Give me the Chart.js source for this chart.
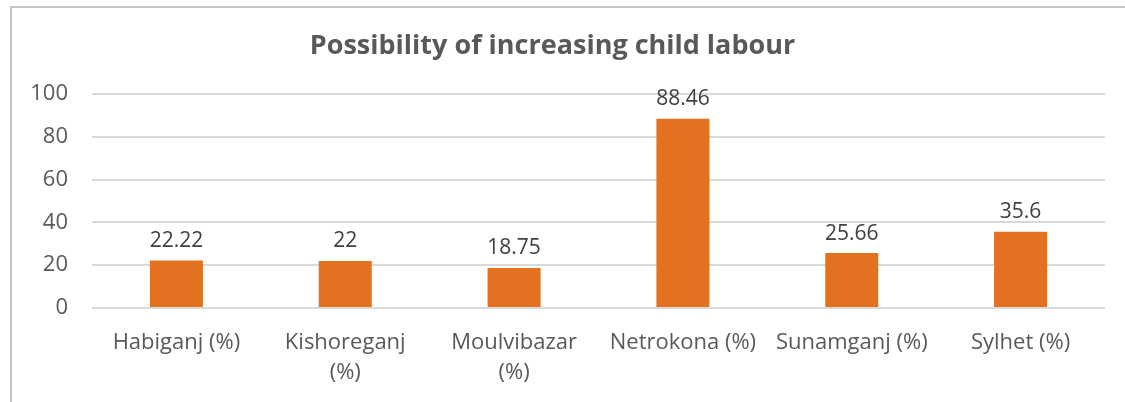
<!DOCTYPE html>
<html>
<head>
<meta charset="utf-8">
<script src="https://cdn.jsdelivr.net/npm/chart.js@4"></script>
<style>
  body { margin: 0; background: #fff; }
  #marco {
    position: absolute; left: 10px; top: 6px; width: 1300px; height: 600px;
    border-left: 2px solid #c6c6c6; border-top: 2px solid #c6c6c6;
  }
  #caja { position: absolute; left: 0; top: 0; width: 1125px; height: 402px; }
</style>
</head>
<body>
<div id="marco"></div>
<div id="caja"><canvas id="grafica"></canvas></div>
<script>
// Datos de la gráfica
const distritos = ['Habiganj (%)', ['Kishoreganj', '(%)'], ['Moulvibazar', '(%)'], 'Netrokona (%)', 'Sunamganj (%)', 'Sylhet (%)'];
const valores = [22.22, 22, 18.75, 88.46, 25.66, 35.6];
const ticksY = [0, 20, 40, 60, 80, 100];

const fuente = "'Open Sans', 'Lato', sans-serif";
const gris = '#595959';

// Etiquetas encima de cada barra
const etiquetas = {
  id: 'etiquetas',
  afterDatasetsDraw(chart) {
    const c = chart.ctx;
    const meta = chart.getDatasetMeta(0);
    c.save();
    c.font = '21px ' + fuente;
    c.fillStyle = '#404040';
    c.textAlign = 'center';
    c.textBaseline = 'bottom';
    meta.data.forEach((bar, i) => {
      c.fillText(String(valores[i]), bar.x, bar.y - 9);
    });
    c.restore();
  }
};

new Chart(document.getElementById('grafica'), {
  type: 'bar',
  data: {
    labels: distritos,
    datasets: [{
      data: valores,
      backgroundColor: '#E4711F',
      categoryPercentage: 1,
      barPercentage: 0.314
    }]
  },
  options: {
    responsive: true,
    maintainAspectRatio: false,
    animation: false,
    layout: { padding: { top: 30, right: 20, bottom: 0, left: 0 } },
    plugins: {
      legend: { display: false },
      tooltip: { enabled: false },
      title: {
        display: true,
        text: 'Possibility of increasing child labour',
        color: gris,
        font: { family: fuente, size: 27, weight: 'bold' },
        padding: { top: 0, bottom: 31.6 }
      }
    },
    scales: {
      x: {
        grid: { display: false },
        border: { display: false },
        ticks: {
          color: gris,
          font: { family: fuente, size: 22, lineHeight: 1.4 },
          padding: 11,
          maxRotation: 0,
          autoSkip: false
        },
        afterFit(scale) { scale.height = 94; }
      },
      y: {
        min: 0,
        max: 100,
        afterBuildTicks(scale) { scale.ticks = ticksY.map(v => ({ value: v })); },
        grid: { color: '#d9d9d9', lineWidth: 2, drawTicks: false },
        border: { display: false },
        ticks: {
          color: gris,
          font: { family: fuente, size: 22 },
          padding: 24
        },
        afterFit(scale) { scale.width = 92; }
      }
    }
  },
  plugins: [etiquetas]
});
</script>
</body>
</html>
